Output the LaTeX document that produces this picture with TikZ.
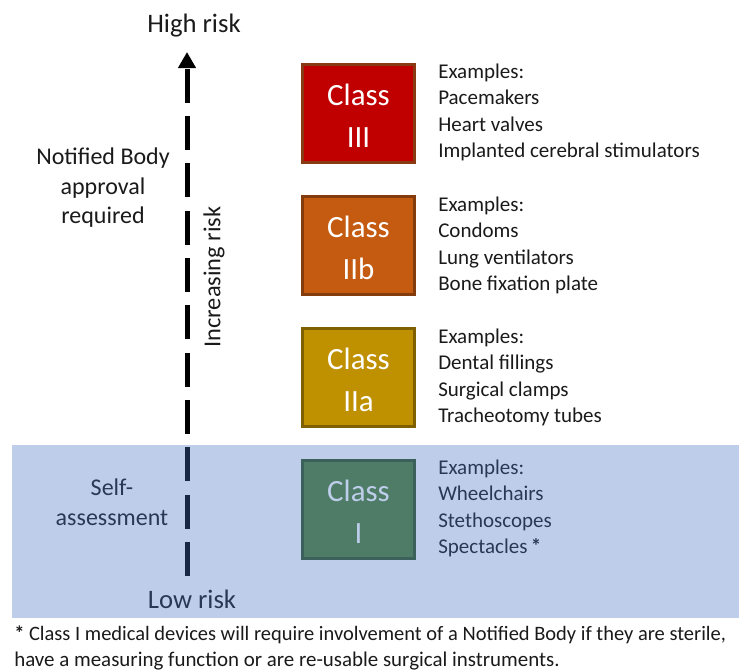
\documentclass[tikz,border=0pt]{standalone}
\usepackage{fontspec}
\setmainfont{Carlito}
\usetikzlibrary{arrows.meta}
\definecolor{txt}{HTML}{1A1A1A}
\definecolor{c3fill}{HTML}{C00000}
\definecolor{c3line}{HTML}{8A3A12}
\definecolor{c2bfill}{HTML}{C55A11}
\definecolor{c2bline}{HTML}{843C0C}
\definecolor{c2afill}{HTML}{BF9000}
\definecolor{c2aline}{HTML}{7F6000}
\definecolor{c1fill}{HTML}{548235}
\definecolor{c1line}{HTML}{385723}
\definecolor{ovl}{HTML}{4472C4}
\begin{document}
\begin{tikzpicture}[x=0.75pt,y=-0.75pt,
  cls/.style={draw, line width=2.25pt, minimum width=84pt, minimum height=73.5pt,
    inner sep=0pt},
  clstxt/.style={inner sep=0pt, align=center, text=white, yshift=-2pt,
    font=\fontsize{23.2}{31.5}\selectfont},
  ex/.style={anchor=base west, inner sep=0pt, text=txt, font=\fontsize{15.75}{18}\selectfont},
  lbl/.style={anchor=base, inner sep=0pt, text=txt, font=\fontsize{18}{22}\selectfont},
  big/.style={lbl, font=\fontsize{20}{24}\selectfont},
  foot/.style={anchor=base west, inner sep=0pt, text=txt, font=\fontsize{15.7}{17}\selectfont}]
\useasboundingbox (0,0) rectangle (739,671);

% arrow
\coordinate (lo) at (187,576);
\coordinate (hi) at (187,52);
\draw[line width=3.75pt, dash pattern=on 25.5pt off 10pt,
  -{Triangle[width=12.75pt,length=12pt]}] (lo) -- (hi);

% labels
\node[big] (high) at (194,32) {High risk};
\node[big] (low) at (192,608) {Low risk};
\node[lbl] (nb1) at (103,164) {Notified Body};
\node[lbl] (nb2) at (103,194) {approval};
\node[lbl] (nb3) at (103,223) {required};
\node[lbl] (sa1) at (112,495) {Self-};
\node[lbl] (sa2) at (112,525) {assessment};
\node[inner sep=0pt, text=txt, rotate=90, font=\fontsize{18.3}{22}\selectfont] (inc) at (214,277) {Increasing risk};

% class boxes
\node[cls, fill=c3fill, draw=c3line] (b3) at (358.5,113.5) {};
\node[clstxt] (t3) at (b3) {Class\\III};
\node[cls, fill=c2bfill, draw=c2bline] (b2b) at (358.5,245.5) {};
\node[clstxt] (t2b) at (b2b) {Class\\IIb};
\node[cls, fill=c2afill, draw=c2aline] (b2a) at (358.5,377.5) {};
\node[clstxt] (t2a) at (b2a) {Class\\IIa};
\node[cls, fill=c1fill, draw=c1line] (b1) at (358.5,509.5) {};
\node[clstxt] (t1) at (b1) {Class\\I};

% examples
\foreach \t [count=\i from 0] in {Examples:,Pacemakers,Heart valves,Implanted cerebral stimulators}
  \node[ex] (exa\i) at (438,78+26.5*\i) {\t};
\foreach \t [count=\i from 0] in {Examples:,Condoms,Lung ventilators,Bone fixation plate}
  \node[ex] (exb\i) at (438,211+26.5*\i) {\t};
\foreach \t [count=\i from 0] in {Examples:,Dental fillings,Surgical clamps,Tracheotomy tubes}
  \node[ex] (exc\i) at (438,343+26.5*\i) {\t};
\foreach \t [count=\i from 0] in {Examples:,Wheelchairs,Stethoscopes,Spectacles\,\textbf{*}}
  \node[ex] (exd\i) at (438,474+26.5*\i) {\t};

% overlay
\fill[ovl, opacity=0.35] (12,445) rectangle (739,618);

% footnote
\node[foot, font=\fontsize{15.35}{17}\selectfont] (f1) at (14,640) {\textbf{*} Class I medical devices will require involvement of a Notified Body if they are sterile,};
\node[foot] (f2) at (14,666) {have a measuring function or are re-usable surgical instruments.};
\end{tikzpicture}
\end{document}
